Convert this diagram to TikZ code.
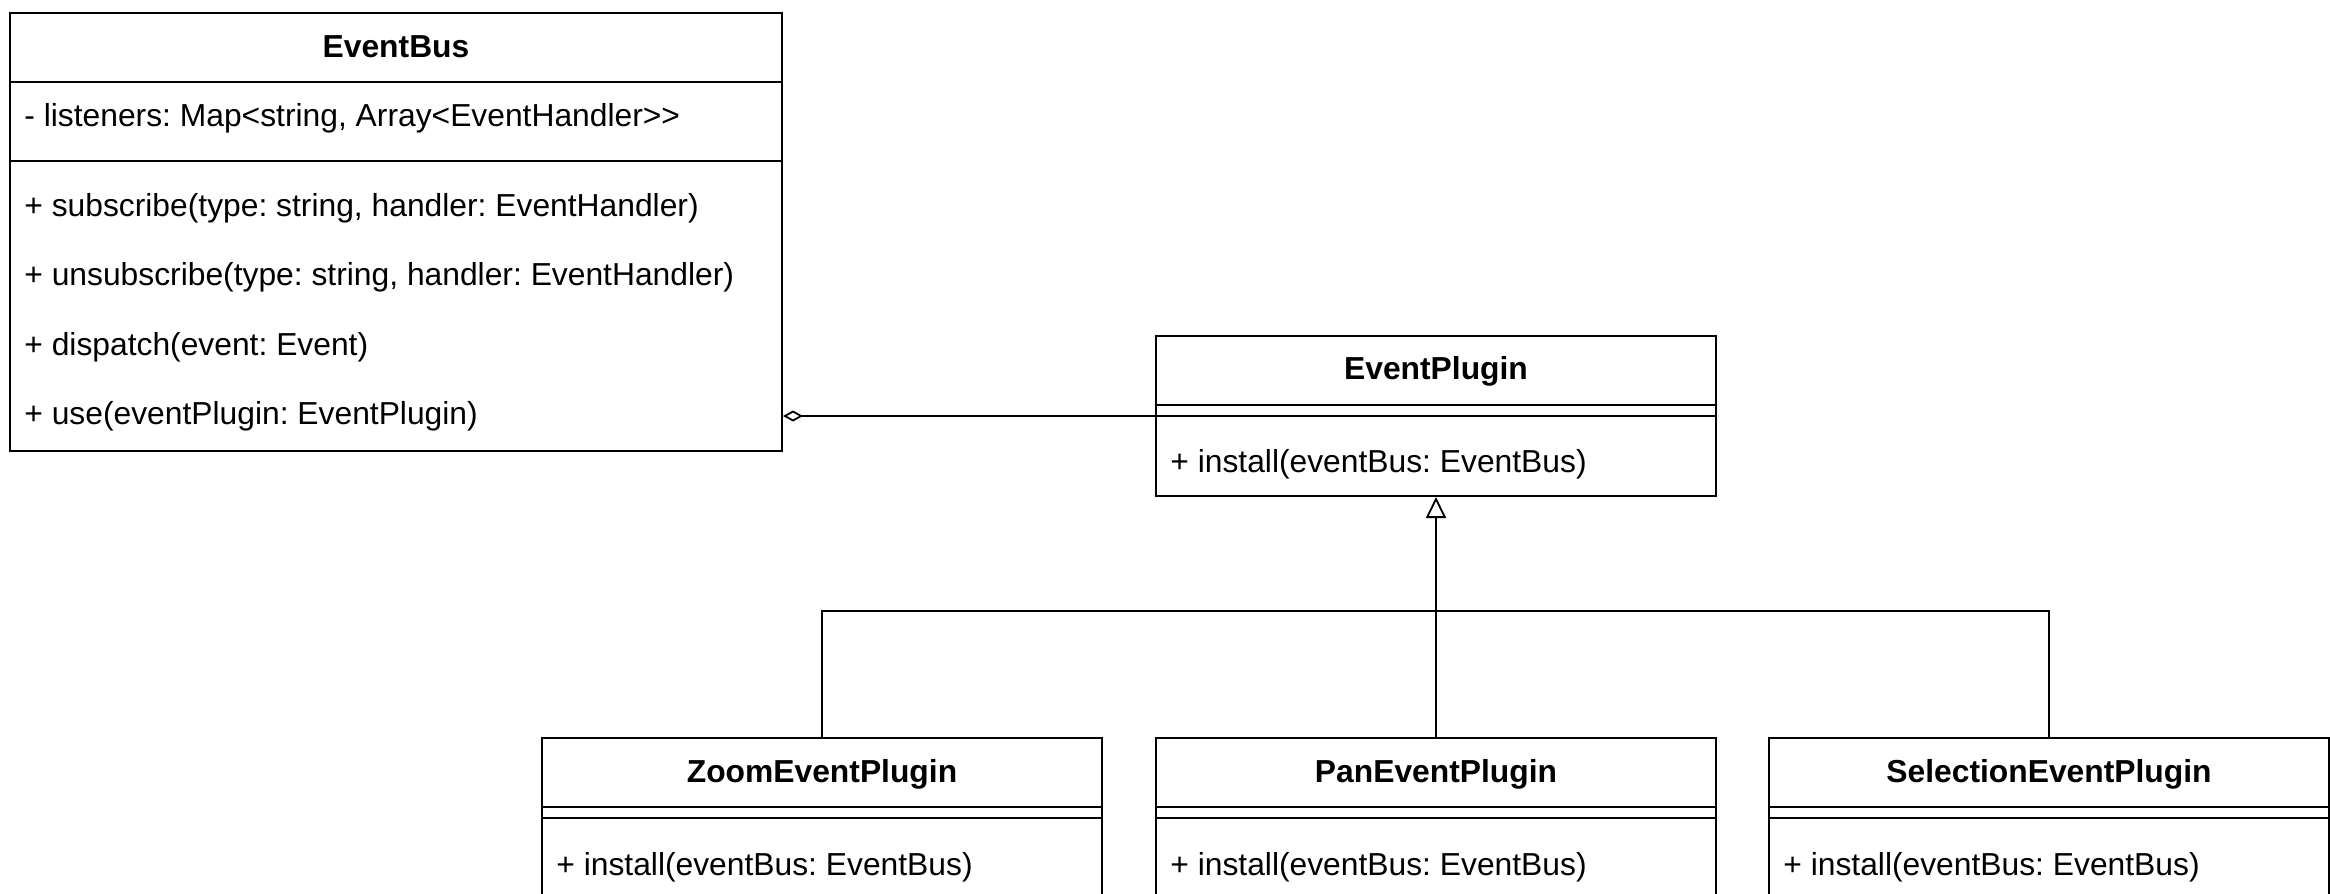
\documentclass[tikz,border=0pt]{standalone}
\usepackage{fontspec}
\setmainfont{Liberation Sans}
\usepackage{tikz}
\usetikzlibrary{calc}
\usetikzlibrary{arrows.meta}
\frenchspacing

\tikzset{
  umlbox/.style={draw, line width=1pt, inner sep=0pt, anchor=north west, minimum width=280pt},
  umltitle/.style={font=\fontsize{15.9}{19}\selectfont\bfseries, inner sep=0pt},
  umlmember/.style={font=\fontsize{15.9}{19}\selectfont, anchor=west, inner sep=0pt},
  umlsep/.style={line width=1pt},
  umlline/.style={line width=0.9pt},
}

\begin{document}
\begin{tikzpicture}[x=0.5pt,y=-0.5pt]
\clip (0,0) rectangle (2330,894);
\fill[white] (0,0) rectangle (2330,894);
% EventBus
\node[umlbox, minimum width=386pt, minimum height=219pt] (bus) at (9,12) {};
\node[umltitle] (bus-title) at ($(bus.north)+(0,35)$) {EventBus};
\draw[umlsep] ($(bus.north west)+(0,70)$) -- ($(bus.north east)+(0,70)$);
\node[umlmember] (bus-attr) at ($(bus.north west)+(15,106)$) {- listeners: Map<string, Array<EventHandler>{}>};
\draw[umlsep] ($(bus.north west)+(0,149)$) -- ($(bus.north east)+(0,149)$);
\node[umlmember] (bus-op1) at ($(bus.north west)+(15,196)$) {+ subscribe(type: string, handler: EventHandler)};
\node[umlmember] (bus-op2) at ($(bus.north west)+(15,265)$) {+ unsubscribe(type: string, handler: EventHandler)};
\node[umlmember] (bus-op3) at ($(bus.north west)+(15,335)$) {+ dispatch(event: Event)};
\node[umlmember] (bus-op4) at ($(bus.north west)+(15,404)$) {+ use(eventPlugin: EventPlugin)};
% EventPlugin
\node[umlbox, minimum height=80pt] (plugin) at (1155,335) {};
\node[umltitle] (plugin-title) at ($(plugin.north)+(0,36)$) {EventPlugin};
\draw[umlsep] ($(plugin.north west)+(0,70)$) -- ($(plugin.north east)+(0,70)$);
\draw[umlsep] ($(plugin.north west)+(0,81)$) -- ($(plugin.north east)+(0,81)$);
\node[umlmember] (plugin-op) at ($(plugin.north west)+(15,129)$) {+ install(eventBus: EventBus)};
% subclasses
\foreach \name/\x/\title in {zoom/541/ZoomEventPlugin, pan/1155/PanEventPlugin, sel/1768/SelectionEventPlugin}{
  \node[umlbox, minimum height=110pt] (\name) at (\x,737) {};
  \node[umltitle] (\name-title) at ($(\name.north)+(0,37)$) {\title};
  \draw[umlsep] ($(\name.north west)+(0,70)$) -- ($(\name.north east)+(0,70)$);
  \draw[umlsep] ($(\name.north west)+(0,81)$) -- ($(\name.north east)+(0,81)$);
  \node[umlmember] (\name-op) at ($(\name.north west)+(15,130)$) {+ install(eventBus: EventBus)};
}
% connectors
\coordinate (plugsep) at ($(plugin.north west)+(0,81)$);
\draw[umlline, {Diamond[open,length=10pt,width=5.5pt]}-] (bus.east |- plugsep) -- (plugsep);
\draw[umlline, -{Triangle[open,length=10.5pt,width=10pt]}] (pan.north) -- (plugin.south);
\coordinate (branch) at ($(plugin.south)+(0,114)$);
\draw[umlline] (zoom.north) |- (branch) -| (sel.north);
\end{tikzpicture}
\end{document}
